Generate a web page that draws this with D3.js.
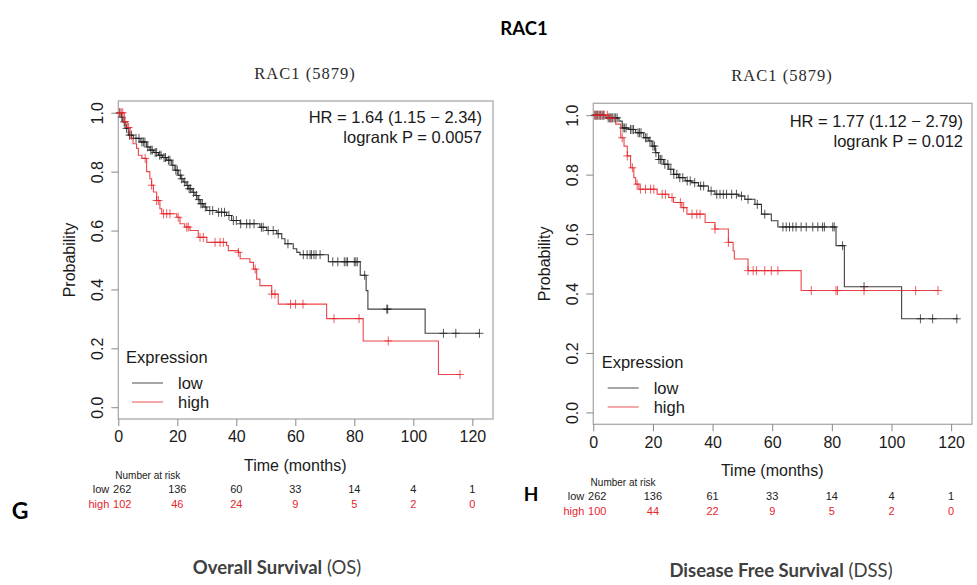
<!DOCTYPE html>
<html>
<head>
<meta charset="utf-8">
<script src="https://cdn.jsdelivr.net/npm/d3@7"></script>
<style>
  body { margin: 0; background: #fff; }
  svg { display: block; }
  .plot text { font-family: "Liberation Sans", Arial, sans-serif; fill: #1a1a1a; }
  .tick line { stroke: #888; }
</style>
</head>
<body>
<div id="chart"></div>
<script>
// ---- data ----
const riskTimes = [0, 20, 40, 60, 80, 100, 120];
const xTicks = [0, 20, 40, 60, 80, 100, 120];
const yTicks = [0, 0.2, 0.4, 0.6, 0.8, 1.0];

// Overall survival, low expression
const osLowT = [0, 1.0, 1.5, 2.3, 3.4, 5.1, 7.4, 9.6, 10.7, 12.0, 13.6, 15.0, 16.4, 18.1, 19.2, 20.3, 21.2, 22.0, 23.0, 23.7, 25.0, 26.0, 27.0, 27.7, 29.0, 30.0, 33.4, 36.7, 38.4, 41.3, 48.0, 50.3, 53.7, 55.4, 56.5, 59.3, 60.5, 61.6, 71.2, 82.0, 84.0, 84.6, 104.0, 122.4];
const osLowS = [1, 0.985, 0.969, 0.947, 0.924, 0.913, 0.901, 0.884, 0.873, 0.865, 0.856, 0.848, 0.839, 0.822, 0.805, 0.788, 0.776, 0.765, 0.753, 0.742, 0.730, 0.719, 0.705, 0.691, 0.680, 0.668, 0.662, 0.651, 0.634, 0.623, 0.611, 0.600, 0.589, 0.572, 0.555, 0.538, 0.526, 0.518, 0.494, 0.448, 0.396, 0.333, 0.251, 0.251];
const osLowCensor = [0.5, 1.2, 2, 2.8, 3.8, 4.5, 6, 7, 8, 8.5, 9, 10, 11, 11.5, 12.5, 13, 14, 14.5, 15.5, 16, 17, 17.5, 18.5, 19.5, 20, 21, 21.5, 22.5, 23.5, 24, 24.5, 25.5, 26.5, 27.3, 28, 28.5, 29.5, 31, 32, 34, 35, 36, 37.5, 39, 40, 41.5, 43.5, 44.6, 46, 48.5, 49.1, 50.8, 52.5, 54.2, 57.5, 62.7, 64, 65, 65.5, 66.3, 67, 68.4, 72.7, 74.4, 76.6, 77.2, 77.7, 80, 80.5, 81, 83.5, 91, 91.3, 110.2, 114.4, 122.4];

// Overall survival, high expression
const osHighT = [0, 2.0, 3.0, 4.0, 5.0, 6.2, 6.8, 8.0, 9.6, 10.7, 11.3, 11.9, 13.0, 14.1, 14.7, 19.8, 20.9, 22.5, 24.3, 27.1, 30.0, 36.7, 37.3, 40.7, 41.3, 44.6, 45.8, 46.9, 48.0, 52.0, 54.2, 70.6, 83.0, 108.5, 115.8];
const osHighS = [1, 0.97, 0.95, 0.913, 0.895, 0.879, 0.856, 0.845, 0.80, 0.776, 0.754, 0.731, 0.702, 0.674, 0.657, 0.645, 0.623, 0.612, 0.600, 0.577, 0.560, 0.549, 0.532, 0.526, 0.504, 0.492, 0.469, 0.435, 0.413, 0.384, 0.350, 0.301, 0.225, 0.111, 0.111];
const osHighCensor = [0.5, 1, 1.5, 2.3, 3.5, 9.1, 11.3, 13, 13.6, 15.3, 16.4, 17.5, 20.3, 23.2, 23.7, 27.7, 28.8, 32.8, 34.5, 35.6, 40.7, 46.4, 52, 53.1, 58.4, 60.1, 62.6, 73.1, 81.6, 91.5, 115.8];

// Disease free survival, low expression
const dssLowT = [0, 4.2, 8.6, 9.7, 11.9, 14.2, 16.9, 18.6, 19.7, 20.8, 21.9, 23.6, 25.3, 26.9, 28.6, 30.8, 33.1, 35.3, 38.6, 40.8, 48.6, 50.8, 54.2, 56.4, 59.7, 61.9, 81.4, 84.2, 103.4, 122.3];
const dssLowS = [1, 0.991, 0.98, 0.957, 0.952, 0.941, 0.924, 0.913, 0.896, 0.874, 0.851, 0.835, 0.818, 0.801, 0.79, 0.779, 0.773, 0.762, 0.745, 0.734, 0.728, 0.717, 0.70, 0.667, 0.645, 0.624, 0.561, 0.423, 0.315, 0.315];
const dssLowCensor = [0.5, 1, 1.5, 2, 2.5, 3, 3.5, 5, 5.5, 6, 6.5, 7, 7.5, 8, 10, 10.5, 11, 12.5, 13, 13.5, 15, 15.5, 16, 17.5, 18, 19, 20, 20.5, 21, 22, 22.5, 23, 24, 25, 26, 27, 28, 29, 30, 31.5, 32.5, 34, 36, 37, 39.5, 41.4, 42.5, 43.6, 44.7, 46.4, 48, 49.7, 51.9, 55, 57.5, 63.6, 64.7, 65.8, 66.9, 68, 69.7, 71.4, 73.6, 75.3, 76.9, 77.5, 80.3, 80.8, 83.6, 90.8, 109.7, 113.8, 121.9];

// Disease free survival, high expression
const dssHighT = [0, 5.0, 7.5, 9.2, 10.3, 11.4, 12.5, 13.6, 14.2, 15.3, 21.4, 25.3, 26.9, 29.7, 31.4, 37.5, 40.8, 45.3, 46.9, 47.3, 51.9, 69.7, 115.8];
const dssHighS = [1, 0.99, 0.97, 0.924, 0.896, 0.863, 0.823, 0.79, 0.768, 0.751, 0.734, 0.723, 0.706, 0.689, 0.667, 0.639, 0.617, 0.572, 0.544, 0.516, 0.477, 0.41, 0.41];
const dssHighCensor = [0.8, 1.5, 2.5, 3.6, 4.7, 5.8, 9.7, 11.4, 13.1, 14.7, 15.8, 17.5, 19.2, 20.3, 23.1, 24.2, 26.4, 29.2, 30.3, 33.1, 34.7, 35.8, 40.8, 45.3, 51.9, 53.6, 54.7, 57.5, 59.7, 61.9, 73.1, 81.4, 81.9, 90.8, 108.1, 115.6];

// number at risk
const osRiskLow = [262, 136, 60, 33, 14, 4, 1];
const osRiskHigh = [102, 46, 24, 9, 5, 2, 0];
const dssRiskLow = [262, 136, 61, 33, 14, 4, 1];
const dssRiskHigh = [100, 44, 22, 9, 5, 2, 0];

const osStats = ["HR = 1.64 (1.15 \u2212 2.34)", "logrank P = 0.0057"];
const dssStats = ["HR = 1.77 (1.12 \u2212 2.79)", "logrank P = 0.012"];

// ---- drawing ----
const W = 977, H = 585;
const lowColor = "#1e1e1e";
const highColor = "#e5262c";

const svg = d3.select("#chart").append("svg")
  .attr("width", W).attr("height", H);

svg.append("text")
  .attr("x", 524).attr("y", 35)
  .attr("text-anchor", "middle")
  .style("font-family", "Lato, 'Open Sans', sans-serif")
  .style("font-weight", "bold").style("font-size", "18.5px")
  .text("RAC1");

const panels = [
  {
    left: 118.3, right: 493, top: 101, bottom: 419,
    low: [osLowT, osLowS, osLowCensor], high: [osHighT, osHighS, osHighCensor],
    stats: osStats, statsX: 482, statsY: 123,
    legendX: 126, legendY: 363,
    subtitleX: 305, subtitleY: 79,
    risk: [osRiskLow, osRiskHigh], riskY: 479,
    letter: "G", letterX: 20, letterY: 519, letterSize: 23,
    caption: ["Overall Survival", " (OS)"], captionX: 277, captionY: 574
  },
  {
    left: 593.3, right: 972, top: 103.3, bottom: 424.3,
    low: [dssLowT, dssLowS, dssLowCensor], high: [dssHighT, dssHighS, dssHighCensor],
    stats: dssStats, statsX: 963, statsY: 127,
    legendX: 601.7, legendY: 368,
    subtitleX: 782, subtitleY: 81,
    risk: [dssRiskLow, dssRiskHigh], riskY: 486,
    letter: "H", letterX: 531, letterY: 501, letterSize: 19,
    caption: ["Disease Free Survival", " (DSS)"], captionX: 781, captionY: 577
  }
];

panels.forEach(drawPanel);

function stepValue(times, surv, t) {
  const i = d3.bisectRight(times, t) - 1;
  return surv[Math.max(0, i)];
}

function drawPanel(p) {
  const g = svg.append("g").attr("class", "plot");

  const x = d3.scaleLinear().domain([0, 127]).range([p.left, p.right]);
  const y = d3.scaleLinear().domain([-0.04, 1.04]).range([p.bottom, p.top]);

  // subtitle
  g.append("text")
    .attr("x", p.subtitleX).attr("y", p.subtitleY)
    .attr("text-anchor", "middle")
    .style("font-family", "'Liberation Serif', serif")
    .style("font-size", "16.5px").style("letter-spacing", "1px")
    .style("fill", "#2a2a2a")
    .text("RAC1 (5879)");

  // box
  g.append("rect")
    .attr("x", p.left).attr("y", p.top)
    .attr("width", p.right - p.left).attr("height", p.bottom - p.top)
    .attr("fill", "none").attr("stroke", "#aaa").attr("stroke-width", 1.3);

  const xAxis = d3.axisBottom(x).tickValues(xTicks).tickSize(7).tickPadding(5);
  const gx = g.append("g")
    .attr("transform", "translate(0," + p.bottom + ")")
    .call(xAxis);
  gx.select(".domain").remove();
  gx.selectAll("text").style("font-size", "16px");

  const yAxis = d3.axisLeft(y).tickValues(yTicks).tickSize(7).tickFormat(d3.format(".1f"));
  const gy = g.append("g")
    .attr("transform", "translate(" + p.left + ",0)")
    .call(yAxis);
  gy.select(".domain").remove();
  gy.selectAll("text")
    .attr("transform", "rotate(-90)")
    .attr("x", 0).attr("y", -15.5).attr("dy", 0)
    .attr("text-anchor", "middle")
    .style("font-size", "16px");

  // axis titles
  g.append("text")
    .attr("x", (x(0) + x(120)) / 2).attr("y", p.bottom + 52)
    .attr("text-anchor", "middle").style("font-size", "16px")
    .text("Time (months)");
  g.append("text")
    .attr("transform", "translate(" + (p.left - 43) + "," + (y(0.5)) + ") rotate(-90)")
    .attr("text-anchor", "middle").style("font-size", "16px")
    .text("Probability");

  // curves
  const line = d3.line()
    .x(d => x(d[0])).y(d => y(d[1]))
    .curve(d3.curveStepAfter);

  [[p.low, lowColor], [p.high, highColor]].forEach(([ser, col]) => {
    const [times, surv, cens] = ser;
    const pts = times.map((t, i) => [t, surv[i]]);
    g.append("path")
      .datum(pts)
      .attr("fill", "none").attr("stroke", col)
      .attr("stroke-opacity", 0.85).attr("stroke-width", 1.1)
      .attr("d", line);
    g.append("g").selectAll("path")
      .data(cens)
      .join("path")
      .attr("d", t => {
        const cx = x(t), cy = y(stepValue(times, surv, t));
        return `M${cx - 4},${cy}H${cx + 4}M${cx},${cy - 4.5}V${cy + 4.5}`;
      })
      .attr("stroke", col).attr("stroke-opacity", 0.75).attr("stroke-width", 1);
  });

  // stats text
  p.stats.forEach((s, i) => {
    g.append("text")
      .attr("x", p.statsX).attr("y", p.statsY + i * 20)
      .attr("text-anchor", "end").style("font-size", "16.5px")
      .text(s);
  });

  // legend
  g.append("text")
    .attr("x", p.legendX).attr("y", p.legendY)
    .style("font-size", "16.5px").text("Expression");
  [["low", lowColor], ["high", highColor]].forEach(([lab, col], i) => {
    const ly = p.legendY + 20 + i * 19;
    g.append("line")
      .attr("x1", p.legendX + 6).attr("x2", p.legendX + 37)
      .attr("y1", ly).attr("y2", ly)
      .attr("stroke", col).attr("stroke-opacity", 0.8);
    g.append("text")
      .attr("x", p.legendX + 52).attr("y", ly + 5.5)
      .style("font-size", "16.5px").text(lab);
  });

  // number at risk table
  g.append("text")
    .attr("x", x(10)).attr("y", p.riskY)
    .attr("text-anchor", "middle")
    .style("font-size", "10px").style("font-stretch", "condensed")
    .text("Number at risk");
  [["low", p.risk[0], "#222"], ["high", p.risk[1], highColor]].forEach(([lab, vals, col], r) => {
    const ry = p.riskY + 14 + r * 15;
    g.append("text")
      .attr("x", p.left - 9).attr("y", ry)
      .attr("text-anchor", "end")
      .style("font-size", "11px").style("fill", col)
      .text(lab);
    g.append("g").selectAll("text")
      .data(vals)
      .join("text")
      .attr("x", (d, i) => x(riskTimes[i]) + (i === 0 ? 4 : 0))
      .attr("y", ry)
      .attr("text-anchor", "middle")
      .style("font-size", "11px").style("fill", col)
      .text(d => d);
  });

  // panel letter
  svg.append("text")
    .attr("x", p.letterX).attr("y", p.letterY)
    .attr("text-anchor", "middle")
    .style("font-family", "Lato, 'Open Sans', sans-serif")
    .style("font-weight", "bold").style("font-size", p.letterSize + "px")
    .text(p.letter);

  // caption
  const cap = svg.append("text")
    .attr("x", p.captionX).attr("y", p.captionY)
    .attr("text-anchor", "middle")
    .style("font-family", "Lato, 'Open Sans', sans-serif")
    .style("font-size", "18.5px").style("fill", "#404040");
  cap.append("tspan").style("font-weight", "bold").text(p.caption[0]);
  cap.append("tspan").text(p.caption[1]);
}
</script>
</body>
</html>
